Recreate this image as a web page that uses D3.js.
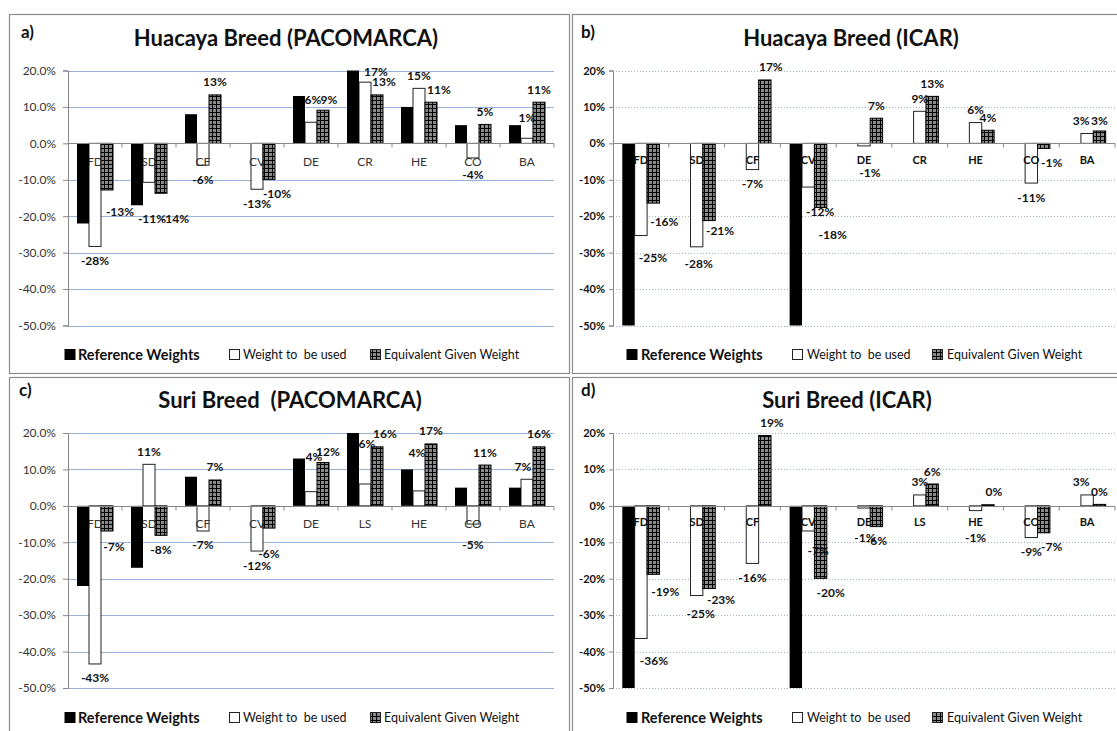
<!DOCTYPE html>
<html><head><meta charset="utf-8">
<script src="https://cdn.jsdelivr.net/npm/d3@7"></script>
<style>
body{margin:0;background:#fff}
svg{display:block}
text{font-family:Lato,"Open Sans",sans-serif}
</style>
</head><body>
<svg id="chart" width="1117" height="731"></svg>
<script>
// ---------------- DATA ----------------
const categoriesHuacaya = ["FD","SD","CF","CV","DE","CR","HE","CO","BA"];
const categoriesSuri    = ["FD","SD","CF","CV","DE","LS","HE","CO","BA"];
const seriesNames = ["Reference Weights","Weight to  be used","Equivalent Given Weight"];
const yTickValues = [20,10,0,-10,-20,-30,-40,-50];

// a) Huacaya Breed (PACOMARCA)  values in %
const refHuacayaPaco = [-22,-17,8,0,13,20,10,5,5];
const useHuacayaPaco = [-28.3,-10.7,-6,-12.6,5.8,16.8,15.1,-4,1.4];
const eqHuacayaPaco  = [-12.8,-13.7,13.3,-9.9,9.1,13.3,11.3,5.2,11.3];
// b) Huacaya Breed (ICAR)
const refHuacayaIcar = [-50,0,0,-50,0,0,0,0,0];
const useHuacayaIcar = [-25.3,-28.4,-7.2,-12,-0.7,8.8,5.7,-10.9,2.7];
const eqHuacayaIcar  = [-16.4,-21.2,17.4,-17.6,6.9,12.9,3.6,-1.4,3.4];
// c) Suri Breed (PACOMARCA)
const refSuriPaco = [-22,-17,8,0,13,20,10,5,5];
const useSuriPaco = [-43.4,11.4,-6.9,-12.4,3.9,6.0,4.1,-5,7.3];
const eqSuriPaco  = [-6.9,-8.1,7.1,-6.1,11.9,16.2,17,11.2,16.2];
// d) Suri Breed (ICAR)
const refSuriIcar = [-50,0,0,-50,0,0,0,0,0];
const useSuriIcar = [-36.4,-24.6,-15.8,-6.9,-0.6,3.0,-1.3,-8.7,3.0];
const eqSuriIcar  = [-18.8,-22.7,19.3,-19.9,-5.7,6.0,0.3,-7.4,0.4];

// ---------------- LAYOUT ----------------
// label nudges [dx, dy] keyed "series:category" (series 1 = weight to be used, 2 = equivalent)
const nudges = {
  a: {"2:FD":[13,8],"1:SD":[3,22],"2:SD":[14,11],"2:CV":[8,0],"1:DE":[2,-10],"2:DE":[6,2],
      "1:CR":[11,2],"2:CR":[7,0],"2:HE":[8,0],"1:CO":[0,3],"1:BA":[0,-8]},
  b: {"1:FD":[12,8],"2:FD":[11,4],"1:SD":[2,3],"2:SD":[11,-4],"2:CF":[6,0],"1:CV":[12,10],
      "2:CV":[12,13],"1:DE":[6,13],"2:CO":[8,0],"1:BA":[-6,0],"2:BA":[0,3]},
  c: {"2:FD":[7,2],"2:CV":[0,11],"1:DE":[3,-22],"2:DE":[5,2],"1:LS":[2,-28],"2:LS":[8,0],
      "1:HE":[-2,-25],"1:CO":[0,6],"1:BA":[-4,0]},
  d: {"1:FD":[13,8],"2:FD":[12,3],"1:SD":[4,4],"2:SD":[12,-3],"2:CF":[7,0],"1:CV":[10,6],
      "2:CV":[10,0],"1:DE":[1,15],"1:HE":[0,13],"2:HE":[6,0],"2:CO":[8,0],"1:BA":[-6,0]}
};

const panels = [
  {id:"a", letter:"a)", title:"Huacaya Breed (PACOMARCA)", cats:categoriesHuacaya,
   series:[refHuacayaPaco,useHuacayaPaco,eqHuacayaPaco], kind:"paco",
   frame:[9.5,14.5,560,359], px:[68,554], py:[70.5,325.5], letterXY:[21,38], titleXY:[286,46],
   legendY:354, legendX:[[64,78],[229,243],[370,384]]},
  {id:"b", letter:"b)", title:"Huacaya Breed (ICAR)", cats:categoriesHuacaya,
   series:[refHuacayaIcar,useHuacayaIcar,eqHuacayaIcar], kind:"icar",
   frame:[572.5,14.5,560,359], px:[613,1115], py:[70.5,325.5], letterXY:[581,38], titleXY:[851,46],
   legendY:354, legendX:[[626,641],[792,807],[932,947]]},
  {id:"c", letter:"c)", title:"Suri Breed  (PACOMARCA)", cats:categoriesSuri,
   series:[refSuriPaco,useSuriPaco,eqSuriPaco], kind:"paco",
   frame:[9.5,377.5,560,360], px:[68,554], py:[433,688], letterXY:[19,396], titleXY:[290,408],
   legendY:717, legendX:[[64,78],[229,243],[370,384]]},
  {id:"d", letter:"d)", title:"Suri Breed (ICAR)", cats:categoriesSuri,
   series:[refSuriIcar,useSuriIcar,eqSuriIcar], kind:"icar",
   frame:[572.5,377.5,560,360], px:[613,1115], py:[433,688], letterXY:[581,396], titleXY:[847,408],
   legendY:717, legendX:[[626,641],[792,807],[932,947]]}
];

const loc = d3.formatLocale({decimal:".",thousands:",",grouping:[3],currency:["$",""],minus:"-"});
const pct0 = loc.format(".0%"), pct1 = loc.format(".1%");

const svg = d3.select("#chart");
const defs = svg.append("defs");
const pat = defs.append("pattern").attr("id","chk").attr("width",4).attr("height",4)
  .attr("patternUnits","userSpaceOnUse");
pat.append("rect").attr("width",4).attr("height",4).attr("fill","#8a8a8a");
pat.append("path").attr("d","M0,0.5H4M0.5,0V4").attr("stroke","#000").attr("stroke-width",1);

const fills = ["#000","#fff","url(#chk)"];
const strokes = ["none","#222","#000"];

panels.forEach(p => {
  const g = svg.append("g");
  const [fx,fy,fw,fh] = p.frame;
  g.append("rect").attr("x",fx).attr("y",fy).attr("width",fw).attr("height",fh)
    .attr("fill","#fff").attr("stroke","#8c8c8c").attr("stroke-width",1.2);

  g.append("text").attr("x",p.letterXY[0]).attr("y",p.letterXY[1]).text(p.letter)
    .attr("font-size",17).attr("font-weight","bold").attr("fill","#111");
  g.append("text").attr("x",p.titleXY[0]).attr("y",p.titleXY[1]).text(p.title)
    .attr("text-anchor","middle").attr("font-size",22).attr("font-weight","bold")
    .attr("fill","#111").style("white-space","pre");

  const x = d3.scaleBand().domain(p.cats).range(p.px).paddingInner(0).paddingOuter(0);
  const xs = d3.scaleBand().domain([0,1,2]).range([0,x.bandwidth()]).paddingInner(0).paddingOuter(0.75);
  const y = d3.scaleLinear().domain([20,-50]).range(p.py);
  const isPaco = p.kind === "paco";

  // gridlines
  g.append("g").selectAll("line").data(yTickValues.filter(v => v !== 0)).join("line")
    .attr("x1",p.px[0]).attr("x2",p.px[1])
    .attr("y1",d => Math.round(y(d))+0.5).attr("y2",d => Math.round(y(d))+0.5)
    .attr("stroke", isPaco ? "#95b3d7" : "#9db2d4")
    .attr("stroke-width",1)
    .attr("stroke-dasharray", isPaco ? null : "1,2");

  const barLayer = (si) => {
    const rows = p.cats.map((c,i) => ({c, v:p.series[si][i]})).filter(d => d.v !== 0);
    g.append("g").selectAll("rect").data(rows).join("rect")
      .attr("x", d => x(d.c) + xs(si))
      .attr("width", xs.bandwidth())
      .attr("y", d => y(Math.max(0,d.v)))
      .attr("height", d => Math.abs(y(d.v) - y(0)))
      .attr("fill", fills[si]).attr("stroke", strokes[si]).attr("stroke-width", 1);
  };
  barLayer(1);

  // category labels
  g.append("g").selectAll("text").data(p.cats).join("text")
    .attr("x", d => x(d) + x.bandwidth()/2)
    .attr("y", y(0) + (isPaco ? 18 : 16))
    .attr("text-anchor","middle").attr("dominant-baseline","central")
    .attr("font-size", isPaco ? 12 : 11)
    .attr("font-weight", isPaco ? "normal" : "bold")
    .attr("fill", isPaco ? "#333" : "#111")
    .text(d => d);

  barLayer(0);
  barLayer(2);

  // y axis
  const yAxis = d3.axisLeft(y).tickValues(yTickValues)
    .tickSize(isPaco ? 5 : 4).tickPadding(isPaco ? 7 : 4)
    .tickFormat(d => isPaco ? pct1(d/100) : pct0(d/100));
  const ya = g.append("g").attr("transform",`translate(${p.px[0]},0)`).call(yAxis);
  ya.select(".domain").attr("stroke","#868686");
  ya.selectAll(".tick line").attr("stroke","#868686");
  ya.selectAll(".tick text").attr("font-family","Lato, sans-serif")
    .attr("font-size", isPaco ? 12 : 11).attr("font-weight", isPaco ? "normal" : "bold")
    .attr("fill", isPaco ? "#333" : "#111");

  // x axis at zero
  const y0 = Math.round(y(0)) + 0.5;
  g.append("line").attr("x1",p.px[0]).attr("x2",p.px[1]).attr("y1",y0).attr("y2",y0)
    .attr("stroke","#868686");
  g.append("g").selectAll("line").data(p.cats).join("line")
    .attr("x1", d => x(d) + x.bandwidth()).attr("x2", d => x(d) + x.bandwidth())
    .attr("y1", y0).attr("y2", y0 + 4).attr("stroke","#868686");

  // data labels (series 1 and 2)
  [1,2].forEach(si => {
    const rows = p.cats.map((c,i) => ({c, v:p.series[si][i]}));
    g.append("g").selectAll("text").data(rows).join("text")
      .attr("x", d => x(d.c) + xs(si) + xs.bandwidth()/2 + ((nudges[p.id][si+":"+d.c]||[0,0])[0]))
      .attr("y", d => (d.v >= 0 ? y(d.v) - 13 : y(d.v) + 14) + ((nudges[p.id][si+":"+d.c]||[0,0])[1]))
      .attr("text-anchor","middle").attr("dominant-baseline","central")
      .attr("font-size",12).attr("font-weight","bold").attr("fill","#111")
      .text(d => pct0(d.v/100));
  });

  // legend
  const lg = g.append("g");
  p.legendX.forEach((lx, si) => {
    const sz = si === 0 ? 11 : 10;
    lg.append("rect").attr("x", lx[0] + 0.5).attr("y", p.legendY - sz/2 + 0.5)
      .attr("width", sz).attr("height", sz)
      .attr("fill", fills[si]).attr("stroke", si === 0 ? "none" : "#222");
    lg.append("text").attr("x", lx[1]).attr("y", p.legendY).attr("dominant-baseline","central")
      .attr("font-size", si === 0 ? 14.5 : 12.5).attr("font-weight", si === 0 ? "bold" : "normal")
      .attr("fill","#111").style("white-space","pre").text(seriesNames[si]);
  });
});
</script>
</body></html>
